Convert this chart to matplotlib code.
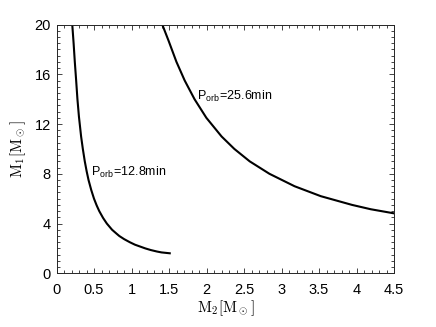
import matplotlib
matplotlib.use("Agg")
import matplotlib.pyplot as plt
from matplotlib.ticker import MultipleLocator, FuncFormatter

plt.rcParams["font.family"] = ["Liberation Sans", "DejaVu Sans"]
plt.rcParams["mathtext.fontset"] = "cm"

# curve for P_orb = 12.8 min
m2_short = [0.21, 0.228, 0.244, 0.262, 0.279, 0.299, 0.328, 0.351, 0.377,
            0.402, 0.427, 0.463, 0.50, 0.536, 0.57, 0.621, 0.671, 0.741,
            0.798, 0.837, 0.901, 0.977, 1.046, 1.12, 1.185, 1.257, 1.34,
            1.40, 1.51]
m1_short = [20.0, 18.5, 17.0, 15.5, 14.0, 12.6, 11.0, 10.0, 9.0,
            8.2, 7.5, 6.7, 6.0, 5.45, 5.0, 4.45, 4.0, 3.5,
            3.2, 3.0, 2.75, 2.5, 2.3, 2.14, 2.0, 1.87, 1.75,
            1.68, 1.61]

# curve for P_orb = 25.6 min
m2_long = [1.41, 1.494, 1.599, 1.709, 1.84, 1.998, 2.201, 2.371, 2.576,
           2.839, 3.174, 3.524, 3.94, 4.19, 4.5]
m1_long = [20.0, 18.7, 17.0, 15.5, 14.0, 12.5, 11.0, 10.0, 9.0,
           8.0, 7.0, 6.2, 5.5, 5.15, 4.82]

labels = ["P$_\\mathregular{orb}$=12.8min", "P$_\\mathregular{orb}$=25.6min"]
label_pos = [(0.465, 8.1), (1.87, 14.2)]

fig = plt.figure(figsize=(4.36, 3.27), dpi=100)
ax = fig.add_axes([0.1296, 0.1642, 0.7741, 0.7608])

ax.plot(m2_short, m1_short, color="black", lw=1.5)
ax.plot(m2_long, m1_long, color="black", lw=1.5)
for (x, y), s in zip(label_pos, labels):
    ax.text(x, y, s, fontsize=9, ha="left", va="center")

ax.set_xlim(0, 4.5)
ax.set_ylim(0, 20)
ax.xaxis.set_major_locator(MultipleLocator(0.5))
ax.xaxis.set_minor_locator(MultipleLocator(0.1))
ax.yaxis.set_major_locator(MultipleLocator(4))
ax.yaxis.set_minor_locator(MultipleLocator(0.5))
ax.xaxis.set_major_formatter(FuncFormatter(lambda v, p: f"{v:g}"))
ax.yaxis.set_major_formatter(FuncFormatter(lambda v, p: f"{v:g}"))
ax.tick_params(which="both", direction="in", top=True, right=True,
               color="#262626", width=0.6, labelsize=10.5)
ax.tick_params(axis="x", which="major", length=3.5, pad=7)
ax.tick_params(axis="y", which="major", length=3.5, pad=4)
ax.tick_params(which="minor", length=2)
for sp in ax.spines.values():
    sp.set_color("#262626")
    sp.set_linewidth(0.7)

ax.set_xlabel(r"$\mathrm{M_2[M_\odot]}$", fontsize=11, labelpad=1)
ax.set_ylabel(r"$\mathrm{M_1[M_\odot]}$", fontsize=11, labelpad=5)

fig.savefig("out.png", dpi=100)
